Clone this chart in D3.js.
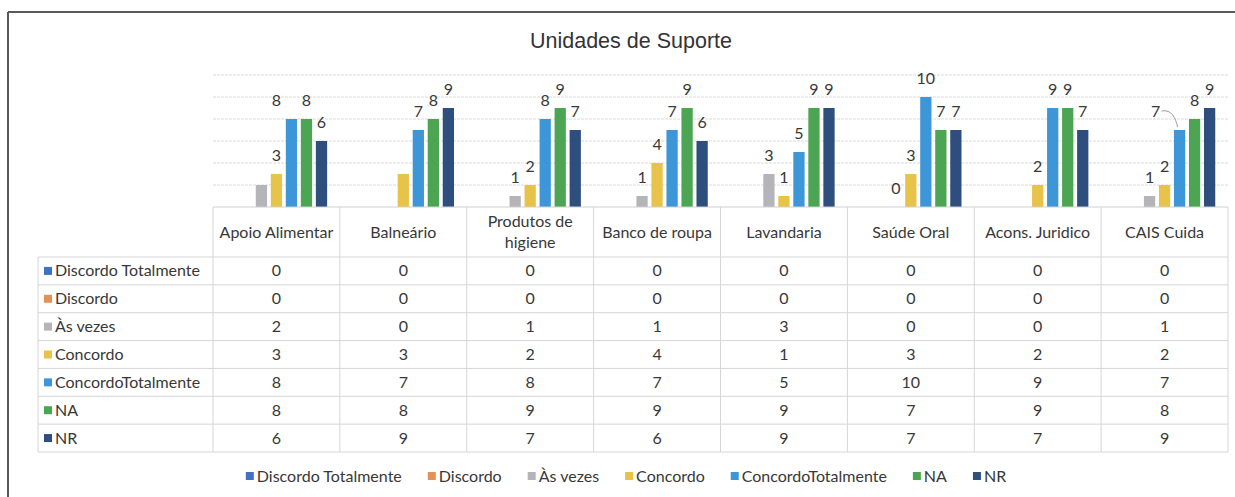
<!DOCTYPE html>
<html><head><meta charset="utf-8">
<script src="https://cdn.jsdelivr.net/npm/d3@7"></script>
<style>html,body{margin:0;padding:0;background:#fff;}svg{display:block;}</style>
</head><body>
<svg id="c" width="1235" height="497"></svg>
<script>
// ---- data ----
const title = "Unidades de Suporte";
const categories = ["Apoio Alimentar","Balneário","Produtos de higiene","Banco de roupa","Lavandaria","Saúde Oral","Acons. Juridico","CAIS Cuida"];
const seriesNames = ["Discordo Totalmente","Discordo","Às vezes","Concordo","ConcordoTotalmente","NA","NR"];
const discordoTotalmente = [0,0,0,0,0,0,0,0];
const discordo           = [0,0,0,0,0,0,0,0];
const asVezes            = [2,0,1,1,3,0,0,1];
const concordo           = [3,3,2,4,1,3,2,2];
const concordoTotalmente = [8,7,8,7,5,10,9,7];
const na                 = [8,8,9,9,9,7,9,8];
const nr                 = [6,9,7,6,9,7,7,9];
const yTicks = [2,4,6,8,10,12];
// which bars carry a data label (1 = shown)
const labelDT  = [0,0,0,0,0,0,0,0];
const labelD   = [0,0,0,0,0,0,0,0];
const labelAV  = [0,0,1,1,1,1,0,1];
const labelC   = [1,0,1,1,1,1,1,1];
const labelCT  = [1,1,1,1,1,1,1,1];
const labelNA  = [1,1,1,1,1,1,1,1];
const labelNR  = [1,1,1,1,1,1,1,1];

// ---- styles ----
const colors = ["#3F73C2","#E39257","#B5B5B9","#E8C34A","#3C96D8","#4CA553","#2E4E7E"];
const seriesValues = [discordoTotalmente,discordo,asVezes,concordo,concordoTotalmente,na,nr];
const seriesLabels = [labelDT,labelD,labelAV,labelC,labelCT,labelNA,labelNR];
const FONT = "Lato, 'Open Sans', sans-serif";
const FS = 16;
const TXT = "#383838";

const svg = d3.select("#c");
const W = 1235, H = 497;

// frame
svg.append("line").attr("x1",8).attr("x2",W).attr("y1",12).attr("y2",12).attr("stroke","#5a5a5a").attr("stroke-width",2);
svg.append("line").attr("x1",8).attr("x2",8).attr("y1",12).attr("y2",H).attr("stroke","#5a5a5a").attr("stroke-width",2);

// title
svg.append("text").attr("x",631).attr("y",48).attr("text-anchor","middle")
  .attr("font-family","'Liberation Sans', Arial, sans-serif").attr("font-size",21.5).attr("fill","#333").text(title);

// scales
const tableLeft = 38, colStart = 213, colEnd = 1228;
const x = d3.scaleBand().domain(categories).range([colStart,colEnd]).padding(0);
const colW = x.bandwidth();
const xs = d3.scaleBand().domain(d3.range(seriesNames.length)).range([9, colW-9]).paddingInner(0.25).paddingOuter(0.25);
const y = d3.scaleLinear().domain([0,12]).range([207,75]);

// gridlines
const grid = svg.append("g");
grid.selectAll("line").data(yTicks).join("line")
  .attr("x1",colStart).attr("x2",colEnd)
  .attr("y1",d=>y(d)).attr("y2",d=>y(d))
  .attr("stroke","#dadada").attr("stroke-width",1).attr("stroke-dasharray","3,1");

// bars
const groups = svg.append("g").selectAll("g").data(categories).join("g")
  .attr("transform",d=>`translate(${x(d)},0)`);
groups.each(function(cat, ci){
  const g = d3.select(this);
  const rows = seriesNames.map((s,si)=>({si, v: seriesValues[si][ci], lab: seriesLabels[si][ci]}));
  g.selectAll("rect").data(rows.filter(r=>r.v>0)).join("rect")
    .attr("x",r=>xs(r.si)).attr("width",xs.bandwidth())
    .attr("y",r=>y(r.v)).attr("height",r=>y(0)-y(r.v))
    .attr("fill",r=>colors[r.si]);
  g.selectAll("text").data(rows.filter(r=>r.lab)).join("text")
    .attr("x",r=>xs(r.si)+xs.bandwidth()/2 + ((ci===0&&r.si===4)?-15:(ci===7&&r.si===4)?-24:0))
    .attr("y",r=>y(r.v)-13)
    .attr("text-anchor","middle").attr("font-family",FONT).attr("font-size",FS)
    .attr("fill",TXT).text(r=>r.v);
  if (ci===7){
    const bx = xs(4)+xs.bandwidth()/2, by = y(concordoTotalmente[ci]);
    g.append("path").attr("d",`M${bx-18},${by-19} C${bx-8},${by-21} ${bx-4},${by-12} ${bx-2},${by-3}`)
      .attr("fill","none").attr("stroke","#9a9a9a").attr("stroke-width",1);
  }
});

// table
const headTop = 207, headBot = 257, rowH = (452-257)/7;
const tbl = svg.append("g");
const lineC = "#d6d6d6";
tbl.append("line").attr("x1",colStart).attr("x2",colEnd).attr("y1",headTop).attr("y2",headTop).attr("stroke","#cfcfcf");
d3.range(8).forEach(r=>{
  tbl.append("line").attr("x1",tableLeft).attr("x2",colEnd).attr("y1",headBot+r*rowH).attr("y2",headBot+r*rowH).attr("stroke",lineC);
});
tbl.append("line").attr("x1",tableLeft).attr("x2",tableLeft).attr("y1",headBot).attr("y2",452).attr("stroke",lineC);
d3.range(9).forEach(i=>{
  const xx = colStart + i*colW;
  tbl.append("line").attr("x1",xx).attr("x2",xx).attr("y1",headTop).attr("y2",452).attr("stroke",lineC);
});
function wrapWords(str, maxW){
  const words = str.split(" "); const lines=[]; let cur="";
  const tmp = svg.append("text").attr("font-family",FONT).attr("font-size",FS);
  words.forEach(w=>{
    const t = cur ? cur+" "+w : w;
    tmp.text(t);
    if (tmp.node().getComputedTextLength() > maxW && cur){ lines.push(cur); cur=w; } else cur=t;
  });
  lines.push(cur); tmp.remove(); return lines;
}
categories.forEach(c=>{
  const lines = wrapWords(c, colW-8);
  const cy = (headTop+headBot)/2;
  const lh = 21;
  const t = tbl.append("text").attr("text-anchor","middle").attr("font-family",FONT).attr("font-size",FS).attr("fill",TXT);
  lines.forEach((ln,i)=>{
    t.append("tspan").attr("x",x(c)+colW/2).attr("y",cy + (i-(lines.length-1)/2)*lh + 5.5).text(ln);
  });
});
seriesNames.forEach((s,si)=>{
  const cy = headBot + si*rowH + rowH/2;
  tbl.append("rect").attr("x",44).attr("y",cy-4).attr("width",8).attr("height",8).attr("fill",colors[si]);
  tbl.append("text").attr("x",55).attr("y",cy+5.5).attr("font-family",FONT).attr("font-size",FS).attr("fill",TXT).text(s);
  categories.forEach((c,ci)=>{
    tbl.append("text").attr("x",x(c)+colW/2).attr("y",cy+5.5).attr("text-anchor","middle")
      .attr("font-family",FONT).attr("font-size",FS).attr("fill",TXT).text(seriesValues[si][ci]);
  });
});

// legend
const leg = svg.append("g");
let cx = 0;
seriesNames.forEach((s,si)=>{
  const g = leg.append("g");
  g.append("rect").attr("x",0).attr("y",-4).attr("width",8).attr("height",8).attr("fill",colors[si]);
  const t = g.append("text").attr("x",11).attr("y",5.5).attr("font-family",FONT).attr("font-size",FS).attr("fill",TXT).text(s);
  const w = 11 + t.node().getComputedTextLength();
  g.attr("transform",`translate(${cx},476)`);
  cx += w + 26;
});
const totalW = cx - 26;
leg.attr("transform",`translate(${626 - totalW/2},0)`);
</script>
</body></html>
